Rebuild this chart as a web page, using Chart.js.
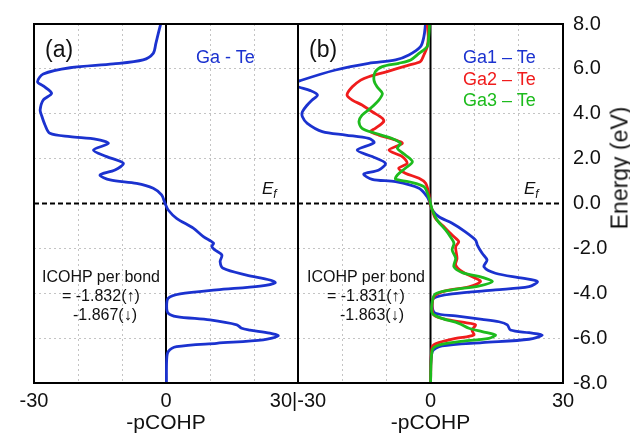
<!DOCTYPE html>
<html>
<head>
<meta charset="utf-8">
<script src="https://cdn.jsdelivr.net/npm/chart.js@4.4.1/dist/chart.umd.min.js"></script>
<style>
  body { margin: 0; background: #fff; }
  #wrap { position: relative; width: 630px; height: 434px; overflow: hidden; font-family: 'Liberation Sans', Arial, sans-serif; }
  canvas { position: absolute; left: 0; top: 0; }
  .lbl { position: absolute; white-space: nowrap; line-height: 1; color: #111; }
</style>
</head>
<body>
<div id="wrap">
  <canvas id="chartA" width="630" height="434"></canvas>
  <canvas id="chartB" width="630" height="434"></canvas>

  <div class="lbl" style="left:45px; top:38px; font-size:23px;">(a)</div>
  <div class="lbl" style="left:196px; top:48px; font-size:18px; color:#1b32cf;">Ga - Te</div>
  <div class="lbl" style="left:262px; top:180px; font-size:17px; font-style:italic;">E<span style="font-size:12px; position:relative; top:4px;">f</span></div>
  <div class="lbl" style="left:42px; top:269px; font-size:16px;">ICOHP per bond</div>
  <div class="lbl" style="left:62px; top:288px; font-size:16px;">= -1.832(↑)</div>
  <div class="lbl" style="left:73px; top:307px; font-size:16px;">-1.867(↓)</div>

  <div class="lbl" style="left:309px; top:38px; font-size:23px;">(b)</div>
  <div class="lbl" style="left:463px; top:47px; font-size:18px; line-height:21.5px; color:#1b32cf;">Ga1 – Te</div>
  <div class="lbl" style="left:463px; top:68.5px; font-size:18px; line-height:21.5px; color:#f01c1c;">Ga2 – Te</div>
  <div class="lbl" style="left:463px; top:90px; font-size:18px; line-height:21.5px; color:#1dbb1d;">Ga3 – Te</div>
  <div class="lbl" style="left:524px; top:180px; font-size:17px; font-style:italic;">E<span style="font-size:12px; position:relative; top:4px;">f</span></div>
  <div class="lbl" style="left:307px; top:269px; font-size:16px;">ICOHP per bond</div>
  <div class="lbl" style="left:327px; top:288px; font-size:16px;">= -1.831(↑)</div>
  <div class="lbl" style="left:340px; top:307px; font-size:16px;">-1.863(↓)</div>

  <div class="lbl" style="left:620px; top:168px; font-size:23px; transform:translate(-50%,-50%) rotate(-90deg);">Energy (eV)</div>
</div>
<script>
// ——— data: energy (eV) and -pCOHP ———
const gaTeE = [8.0, 7.58, 7.14, 6.69, 6.4, 6.22, 6.05, 5.77, 5.43, 5.24, 4.91, 4.61, 4.17, 3.94, 3.5, 3.13, 2.98, 2.86, 2.68, 2.38, 2.09, 1.79, 1.49, 1.27, 1.05, 0.9, 0.68, 0.38, 0.0, -0.29, -0.66, -1.1, -1.48, -1.77, -1.92, -2.07, -2.3, -2.59, -2.89, -3.19, -3.41, -3.53, -3.68, -3.85, -4.03, -4.22, -4.6, -4.89, -5.04, -5.19, -5.41, -5.56, -5.64, -5.78, -5.9, -6.08, -6.23, -6.38, -6.6, -6.97, -8.0];
const gaTeV = [-1.2, -1.75, -2.3, -2.9, -5.2, -12, -21.8, -27.9, -29.2, -27.9, -26, -27.9, -28.6, -28.3, -27.5, -26.4, -21.8, -15.8, -13.1, -16.5, -13.5, -9.7, -11.6, -15, -12.7, -6.7, -2.9, -1.0, -0.2, 0.5, 2.4, 6.2, 8.5, 10.8, 10.4, 11.1, 12.7, 12.3, 13.0, 18.3, 23.6, 24.8, 21.4, 11.5, 3.2, 0.5, 0.15, 0.5, 2.4, 10, 16.1, 17.2, 19.1, 23.6, 25.5, 22.1, 11.5, 2.4, 0.5, 0.15, 0.1];

const ga1E = [8, 7.43, 6.99, 6.62, 6.4, 6.25, 5.95, 5.48, 5.3, 5.18, 5.03, 4.84, 4.61, 4.39, 4.09, 3.87, 3.57, 3.2, 3.05, 2.9, 2.71, 2.38, 2.09, 1.79, 1.49, 1.31, 1.08, 0.97, 0.68, 0.3, 0.0, -0.29, -0.59, -0.88, -1.26, -1.63, -1.85, -2.22, -2.52, -2.82, -3.11, -3.33, -3.48, -3.71, -3.85, -4.03, -4.22, -4.6, -4.89, -5.01, -5.16, -5.27, -5.41, -5.64, -5.76, -5.86, -6.05, -6.2, -6.35, -6.6, -8];
const ga1V = [-1.13, -1.5, -2.26, -4.9, -7.9, -14, -21.5, -29.4, -31.5, -29.7, -27.2, -25.6, -26.8, -27.9, -29, -29, -27.9, -24.5, -19.2, -14, -12.8, -16.6, -13.2, -10.2, -11.7, -15.1, -13.2, -7.9, -2.6, -0.75, -0.1, 0.4, 1.9, 4.9, 7.9, 10.2, 10.6, 11.7, 12.8, 12.1, 14.7, 20.8, 24.2, 22.3, 14.7, 4.9, 0.75, 0.4, 1.1, 5.7, 11.7, 15.5, 17.4, 18.1, 22.3, 25.3, 22.3, 11.7, 2.6, 0.4, 0];

const ga2E = [8, 7.43, 6.99, 6.62, 6.32, 6.17, 5.87, 5.65, 5.5, 5.2, 4.84, 4.61, 4.39, 4.09, 3.8, 3.65, 3.35, 3.2, 3.05, 2.83, 2.68, 2.38, 2.09, 1.79, 1.57, 1.35, 1.12, 0.9, 0.45, 0.0, -0.29, -0.66, -1.03, -1.33, -1.55, -1.7, -1.93, -2.44, -2.74, -3.04, -3.33, -3.48, -3.71, -3.89, -4.08, -4.45, -4.97, -5.19, -5.31, -5.41, -5.64, -5.86, -6.01, -6.2, -6.38, -8];
const ga2V = [-0.75, -0.5, -0.75, -1.5, -2.3, -4.9, -10, -14, -15.8, -17.7, -18.9, -17.7, -15.5, -13.2, -10.9, -10.6, -12.5, -13.6, -11.7, -7.9, -6.4, -9.4, -6.4, -5.3, -7.2, -5.7, -2.6, -1.1, -0.4, -0.1, 0.4, 1.1, 3.0, 4.5, 5.7, 6.4, 5.7, 6.0, 5.7, 7.2, 10.2, 11.3, 8.7, 3.4, 1.1, 0.4, 0.75, 4.1, 7.9, 10.2, 9.4, 9.8, 5.7, 1.9, 0.4, 0];

const ga3E = [8, 7.43, 6.99, 6.69, 6.4, 6.25, 6.1, 5.87, 5.5, 5.2, 4.91, 4.61, 4.24, 3.94, 3.65, 3.35, 3.13, 2.9, 2.68, 2.46, 2.16, 1.86, 1.57, 1.27, 1.09, 0.97, 0.75, 0.3, 0.0, -0.29, -0.74, -1.18, -1.48, -1.77, -2.07, -2.44, -2.82, -3.08, -3.29, -3.48, -3.68, -3.85, -4.03, -4.38, -4.89, -5.12, -5.34, -5.56, -5.71, -5.86, -6.01, -6.16, -6.31, -6.53, -8];
const ga3V = [-0.2, -0.4, -0.75, -2.6, -4.5, -7.2, -10.9, -12.5, -12.8, -12.1, -10.9, -11.7, -13.6, -15.5, -16.2, -15.5, -12.5, -8.7, -6.8, -7.5, -5.7, -4.1, -5.7, -7.5, -7.9, -4.9, -1.5, -0.4, 0, 0.4, 1.5, 3.4, 4.5, 5.3, 4.9, 5.7, 5.3, 7.2, 11.7, 14.0, 10.9, 4.9, 1.1, 0.4, 0.4, 2.6, 6.4, 8.7, 11.7, 14.7, 13.2, 6.4, 1.9, 0.4, 0];

const xLabelsA = { '-30': '-30', '0': '0' };
const xLabelsB = { '-30': '30|-30', '0': '0', '30': '30' };

const BLUE = '#1b32cf', RED = '#f01c1c', GREEN = '#1dbb1d';
const GRID = '#c4c4c4';

Chart.defaults.font.family = "'Liberation Sans', Arial, sans-serif";
Chart.defaults.color = '#111';

const pts = (E, V) => E.map((e, i) => ({ x: V[i], y: e }));

const line = (data, color) => ({
  data, borderColor: color, borderWidth: 2.8, pointRadius: 0,
  showLine: true, fill: false, tension: 0.3
});

// zero line + Fermi level under the curves, frame on top
const framePlugin = {
  id: 'frame',
  beforeDatasetsDraw(chart) {
    const { ctx, chartArea: a, scales: { x, y } } = chart;
    const x0 = x.getPixelForValue(0), y0 = y.getPixelForValue(0);
    ctx.save();
    ctx.strokeStyle = '#000';
    ctx.lineWidth = 2;
    ctx.beginPath(); ctx.moveTo(x0, a.top); ctx.lineTo(x0, a.bottom); ctx.stroke();
    ctx.setLineDash([5, 3]);
    ctx.beginPath(); ctx.moveTo(a.left, y0); ctx.lineTo(a.right, y0); ctx.stroke();
    ctx.restore();
  },
  afterDatasetsDraw(chart) {
    const { ctx, chartArea: a } = chart;
    ctx.save();
    ctx.strokeStyle = '#000';
    ctx.lineWidth = 2;
    ctx.strokeRect(a.left, a.top, a.right - a.left, a.bottom - a.top);
    ctx.restore();
  }
};

function xScale(labels) {
  return {
    type: 'linear', min: -30, max: 30,
    afterFit: s => { s.height = 51; },
    ticks: {
      stepSize: 10, autoSkip: false, maxRotation: 0, padding: 6,
      font: { size: 20 }, color: '#111',
      callback: v => labels[String(v)] || ''
    },
    grid: {
      drawTicks: false,
      color: c => (c.tick && Math.abs(c.tick.value) % 30 === 0) ? 'rgba(0,0,0,0)' : GRID,
      lineWidth: 1
    },
    border: { display: false, dash: [2, 3] },
    title: { display: true, text: '-pCOHP', font: { size: 21, lineHeight: 1 }, padding: 0, color: '#111' }
  };
}

function yScale(right) {
  return {
    type: 'linear', min: -8, max: 8, position: right ? 'right' : 'left',
    afterFit: s => { s.width = right ? 67 : 0; },
    ticks: {
      display: right, stepSize: 2, padding: 10,
      font: { size: 20 }, color: '#111',
      callback: v => v.toFixed(1)
    },
    grid: {
      drawTicks: false,
      color: c => (c.tick && (Math.abs(c.tick.value) === 8 || c.tick.value === 0)) ? 'rgba(0,0,0,0)' : GRID,
      lineWidth: 1
    },
    border: { display: false, dash: [2, 3] }
  };
}

const common = {
  responsive: false, animation: false, devicePixelRatio: 1,
  plugins: { legend: { display: false }, tooltip: { enabled: false } },
  events: []
};

new Chart(document.getElementById('chartA'), {
  type: 'scatter',
  data: { datasets: [line(pts(gaTeE, gaTeV), BLUE)] },
  options: {
    ...common,
    layout: { padding: { left: 34, right: 332, top: 24, bottom: 0 } },
    scales: { x: xScale(xLabelsA), y: yScale(false) }
  },
  plugins: [framePlugin]
});

new Chart(document.getElementById('chartB'), {
  type: 'scatter',
  data: { datasets: [
    { ...line(pts(ga3E, ga3V), GREEN), order: 0 },
    { ...line(pts(ga2E, ga2V), RED), order: 1 },
    { ...line(pts(ga1E, ga1V), BLUE), order: 2 }
  ] },
  options: {
    ...common,
    layout: { padding: { left: 298, right: 0, top: 24, bottom: 0 } },
    scales: { x: xScale(xLabelsB), y: yScale(true) }
  },
  plugins: [framePlugin]
});
</script>
</body>
</html>
